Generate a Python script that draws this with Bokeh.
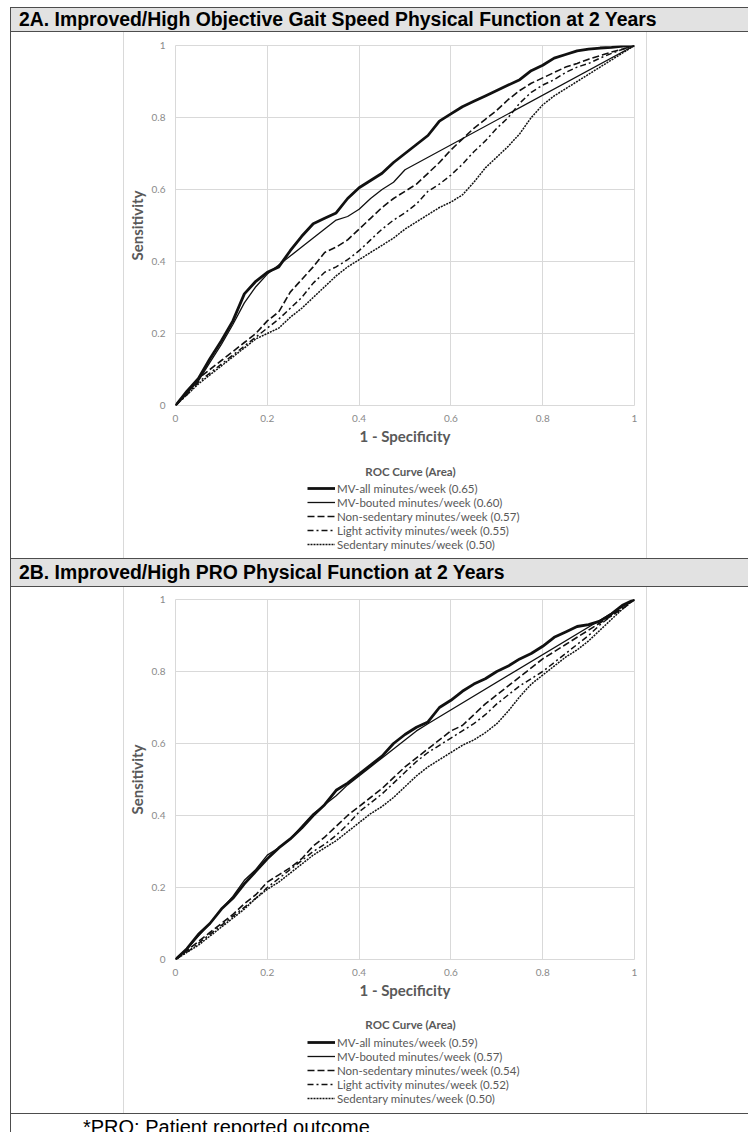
from bokeh.plotting import figure
from bokeh.layouts import column, row
from bokeh.models import (Div, Legend, LegendItem, Label, NumeralTickFormatter, FixedTicker,
                          Range1d)
from bokeh.embed import file_html
from bokeh.resources import INLINE

# ---------------- data ----------------
TITLE_A = "2A. Improved/High Objective Gait Speed Physical Function at 2 Years"
TITLE_B = "2B. Improved/High PRO Physical Function at 2 Years"
FOOTNOTE = "*PRO: Patient reported outcome"
X_LABEL = "1 - Specificity"
Y_LABEL = "Sensitivity"
LEGEND_TITLE = "ROC Curve (Area)"
TICKS = [0, 0.2, 0.4, 0.6, 0.8, 1]

series_names = ["MV-all minutes/week", "MV-bouted minutes/week", "Non-sedentary minutes/week",
                "Light activity minutes/week", "Sedentary minutes/week"]
auc_a = ["0.65", "0.60", "0.57", "0.55", "0.50"]
auc_b = ["0.59", "0.57", "0.54", "0.52", "0.50"]

fpr = [0, 0.025, 0.05, 0.075, 0.1, 0.125, 0.15, 0.175, 0.2, 0.225, 0.25, 0.275, 0.3, 0.325,
       0.35, 0.375, 0.4, 0.425, 0.45, 0.475, 0.5, 0.525, 0.55, 0.575, 0.6, 0.625, 0.65, 0.675,
       0.7, 0.725, 0.75, 0.775, 0.8, 0.825, 0.85, 0.875, 0.9, 0.925, 0.95, 0.975, 1]
fpr_bouted_a = [0, 0.025, 0.05, 0.075, 0.1, 0.125, 0.15, 0.175, 0.2, 0.225, 0.25, 0.275, 0.3,
                0.325, 0.35, 0.375, 0.4, 0.425, 0.45, 0.475, 0.5, 1]
fpr_bouted_b = [0, 0.025, 0.05, 0.075, 0.1, 0.125, 0.15, 0.175, 0.2, 0.225, 0.25, 0.275, 0.3,
                0.325, 0.35, 0.375, 0.4, 0.425, 0.45, 0.475, 0.5, 0.525, 0.55, 1]

a_mv_all = [0, .04, .075, .13, .18, .235, .31, .345, .37, .385, .43, .47, .505, .52, .535, .575,
            .605, .625, .645, .675, .70, .725, .75, .79, .81, .83, .845, .86, .875, .89, .905,
            .93, .945, .965, .975, .985, .99, .993, .995, .998, 1]
a_mv_bouted = [0, .035, .068, .12, .17, .225, .285, .33, .365, .39, .415, .44, .465, .49, .515,
               .525, .545, .575, .60, .62, .655, 1]
a_nonsed = [0, .035, .075, .10, .125, .15, .175, .20, .235, .26, .315, .35, .385, .425, .44, .46,
            .49, .52, .55, .575, .595, .615, .645, .675, .71, .74, .77, .795, .82, .85, .875,
            .895, .91, .925, .94, .95, .962, .972, .982, .99, 1]
a_light = [0, .03, .065, .09, .115, .14, .165, .19, .215, .24, .27, .30, .34, .37, .385, .405,
           .43, .46, .49, .515, .535, .56, .595, .615, .64, .67, .705, .735, .77, .80, .84, .87,
           .89, .905, .925, .94, .95, .965, .978, .99, 1]
a_sed = [0, .03, .06, .085, .11, .135, .16, .185, .20, .215, .245, .27, .30, .33, .36, .385, .405,
         .425, .445, .465, .49, .51, .53, .55, .565, .585, .62, .66, .69, .72, .755, .80, .835,
         .86, .88, .90, .92, .94, .96, .98, 1]

b_mv_all = [0, .03, .07, .10, .14, .17, .21, .245, .28, .31, .335, .365, .40, .43, .47, .49, .515,
            .54, .565, .60, .625, .645, .66, .70, .72, .745, .765, .78, .80, .815, .835, .85,
            .87, .895, .91, .925, .93, .94, .96, .985, 1]
b_mv_bouted = [0, .03, .065, .10, .14, .175, .22, .25, .29, .31, .335, .37, .405, .43, .455,
               .485, .51, .535, .56, .585, .61, .635, .655, 1]
b_nonsed = [0, .025, .05, .075, .10, .125, .155, .18, .215, .235, .255, .28, .315, .34, .37, .40,
            .425, .45, .475, .505, .535, .56, .585, .61, .635, .65, .68, .71, .735, .76, .785,
            .81, .835, .855, .875, .895, .915, .935, .955, .975, 1]
b_light = [0, .02, .045, .07, .095, .12, .145, .17, .20, .225, .25, .275, .30, .32, .345, .375,
           .41, .435, .46, .49, .52, .55, .575, .595, .615, .635, .655, .68, .71, .735, .76, .78,
           .80, .825, .85, .875, .90, .93, .955, .98, 1]
b_sed = [0, .02, .04, .065, .09, .115, .14, .17, .195, .215, .24, .265, .29, .31, .33, .355, .38,
         .405, .425, .45, .48, .51, .535, .555, .575, .595, .61, .63, .655, .69, .73, .765, .79,
         .815, .84, .86, .885, .915, .945, .975, 1]

# ---------------- styles ----------------
LINE_STYLES = [
    dict(line_width=2.8, line_dash="solid"),
    dict(line_width=1.3, line_dash="solid"),
    dict(line_width=1.6, line_dash="7 3"),
    dict(line_width=1.5, line_dash="6 3 2 3"),
    dict(line_width=1.5, line_dash="2 1"),
]
CHART_FONT = "Lato"
HEAD_FONT = "Liberation Sans, Arial, sans-serif"
DARK = "#4d4d4d"
LIGHT = "#d9d9d9"
INK = "#111111"


def make_chart(xs_list, ys_list, min_top):
    p = figure(frame_width=459, frame_height=360, x_range=Range1d(0, 1), y_range=Range1d(0, 1),
               output_backend="svg", toolbar_location=None,
               min_border_left=49, min_border_right=12,
               min_border_top=min_top, min_border_bottom=48)
    p.outline_line_color = LIGHT
    p.background_fill_color = "white"
    p.border_fill_color = "white"
    for ax in (p.xaxis[0], p.yaxis[0]):
        ax.ticker = FixedTicker(ticks=TICKS)
        ax.formatter = NumeralTickFormatter(format="0.[0]")
        ax.axis_line_color = None
        ax.major_tick_line_color = None
        ax.major_tick_out = 0
        ax.major_tick_in = 0
        ax.minor_tick_line_color = None
        ax.minor_tick_out = 0
        ax.major_label_text_font = CHART_FONT
        ax.major_label_text_font_size = "10px"
        ax.major_label_text_color = "#8a8a8a"
        ax.axis_label_text_font = CHART_FONT
        ax.axis_label_text_font_size = "15px"
        ax.axis_label_text_font_style = "bold"
        ax.axis_label_text_color = "#595959"
    p.xaxis.axis_label = X_LABEL
    p.yaxis.axis_label = Y_LABEL
    p.xaxis.major_label_standoff = 9
    p.xaxis.axis_label_standoff = 2
    p.yaxis.major_label_standoff = 10
    p.yaxis.axis_label_standoff = 3
    p.grid.grid_line_color = LIGHT
    p.grid.grid_line_width = 1

    for xs, ys, st in zip(xs_list, ys_list, LINE_STYLES):
        p.line(xs, ys, line_color=INK, line_join="round", **st)
    return p


def make_legend(xs_list, ys_list, aucs, h, title_y, leg_bottom):
    # a strip under the chart holding the legend; the series lie outside its (empty) ranges
    q = figure(frame_width=520, frame_height=h, x_range=Range1d(2, 3), y_range=Range1d(2, 3),
               x_axis_type=None, y_axis_type=None, output_backend="svg", toolbar_location=None,
               min_border=0)
    q.outline_line_color = None
    q.grid.visible = False
    items = []
    for xs, ys, name, auc, st in zip(xs_list, ys_list, series_names, aucs, LINE_STYLES):
        r = q.line(xs, ys, line_color=INK, **st)
        items.append(LegendItem(label=f"{name} ({auc})", renderers=[r]))
    q.add_layout(Label(x=235, y=title_y, x_units="screen", y_units="screen", text=LEGEND_TITLE,
                       anchor="center", text_align="center", text_baseline="middle",
                       text_font=CHART_FONT, text_font_size="11.5px", text_font_style="bold",
                       text_color="#595959"))
    leg = Legend(items=items, location=(183, leg_bottom), orientation="vertical",
                 border_line_color=None, background_fill_alpha=0,
                 label_text_font=CHART_FONT, label_text_font_size="11.5px",
                 label_text_color="#595959", glyph_width=28, glyph_height=14,
                 label_height=14, label_standoff=2, spacing=0, padding=0, margin=0)
    q.add_layout(leg, "center")
    return q


def header(text, h):
    return Div(text=text, width=738, height=h, margin=(0, 0, 0, 10),
               styles={"background-color": "#e2e2e2", "border-top": f"1px solid {DARK}",
                       "border-bottom": f"1px solid {DARK}", "border-left": f"1px solid {DARK}",
                       "box-sizing": "border-box", "font-family": HEAD_FONT, "font-weight": "bold",
                       "font-size": "19.4px", "color": "#000", "padding-left": "8px",
                       "line-height": f"{h - 2}px", "white-space": "nowrap", "overflow": "hidden"})


def gutter():
    return Div(text="", width=114, height=526, margin=(0, 0, 0, 10),
               styles={"border-left": f"1px solid {DARK}", "border-right": f"1px solid {LIGHT}",
                       "box-sizing": "border-box"})


def right_pad():
    return Div(text="", width=104, height=526, margin=0,
               styles={"border-left": f"1px solid {LIGHT}", "box-sizing": "border-box"})


xs_a = [fpr, fpr_bouted_a, fpr, fpr, fpr]
ys_a = [a_mv_all, a_mv_bouted, a_nonsed, a_light, a_sed]
xs_b = [fpr, fpr_bouted_b, fpr, fpr, fpr]
ys_b = [b_mv_all, b_mv_bouted, b_nonsed, b_light, b_sed]

pA = make_chart(xs_a, ys_a, 13)
lA = make_legend(xs_a, ys_a, auc_a, 105, 87, 7)
pB = make_chart(xs_b, ys_b, 12)
lB = make_legend(xs_b, ys_b, auc_b, 106, 89, 8)

top_gap = Div(text="", width=748, height=7, margin=0)

foot = Div(text=FOOTNOTE, width=738, height=19, margin=(0, 0, 0, 10),
           styles={"border-top": f"1px solid {DARK}", "border-left": f"1px solid {DARK}",
                   "box-sizing": "border-box", "font-family": HEAD_FONT, "font-size": "20px",
                   "color": "#000", "padding-left": "72px", "line-height": "26px",
                   "white-space": "nowrap", "overflow": "hidden"})

layout = column(
    top_gap,
    header(TITLE_A, 25),
    row(gutter(), column(pA, lA, spacing=0), right_pad(), spacing=0),
    header(TITLE_B, 29),
    row(gutter(), column(pB, lB, spacing=0), right_pad(), spacing=0),
    foot,
    spacing=0,
)

open("out.html", "w").write(file_html(layout, INLINE))
